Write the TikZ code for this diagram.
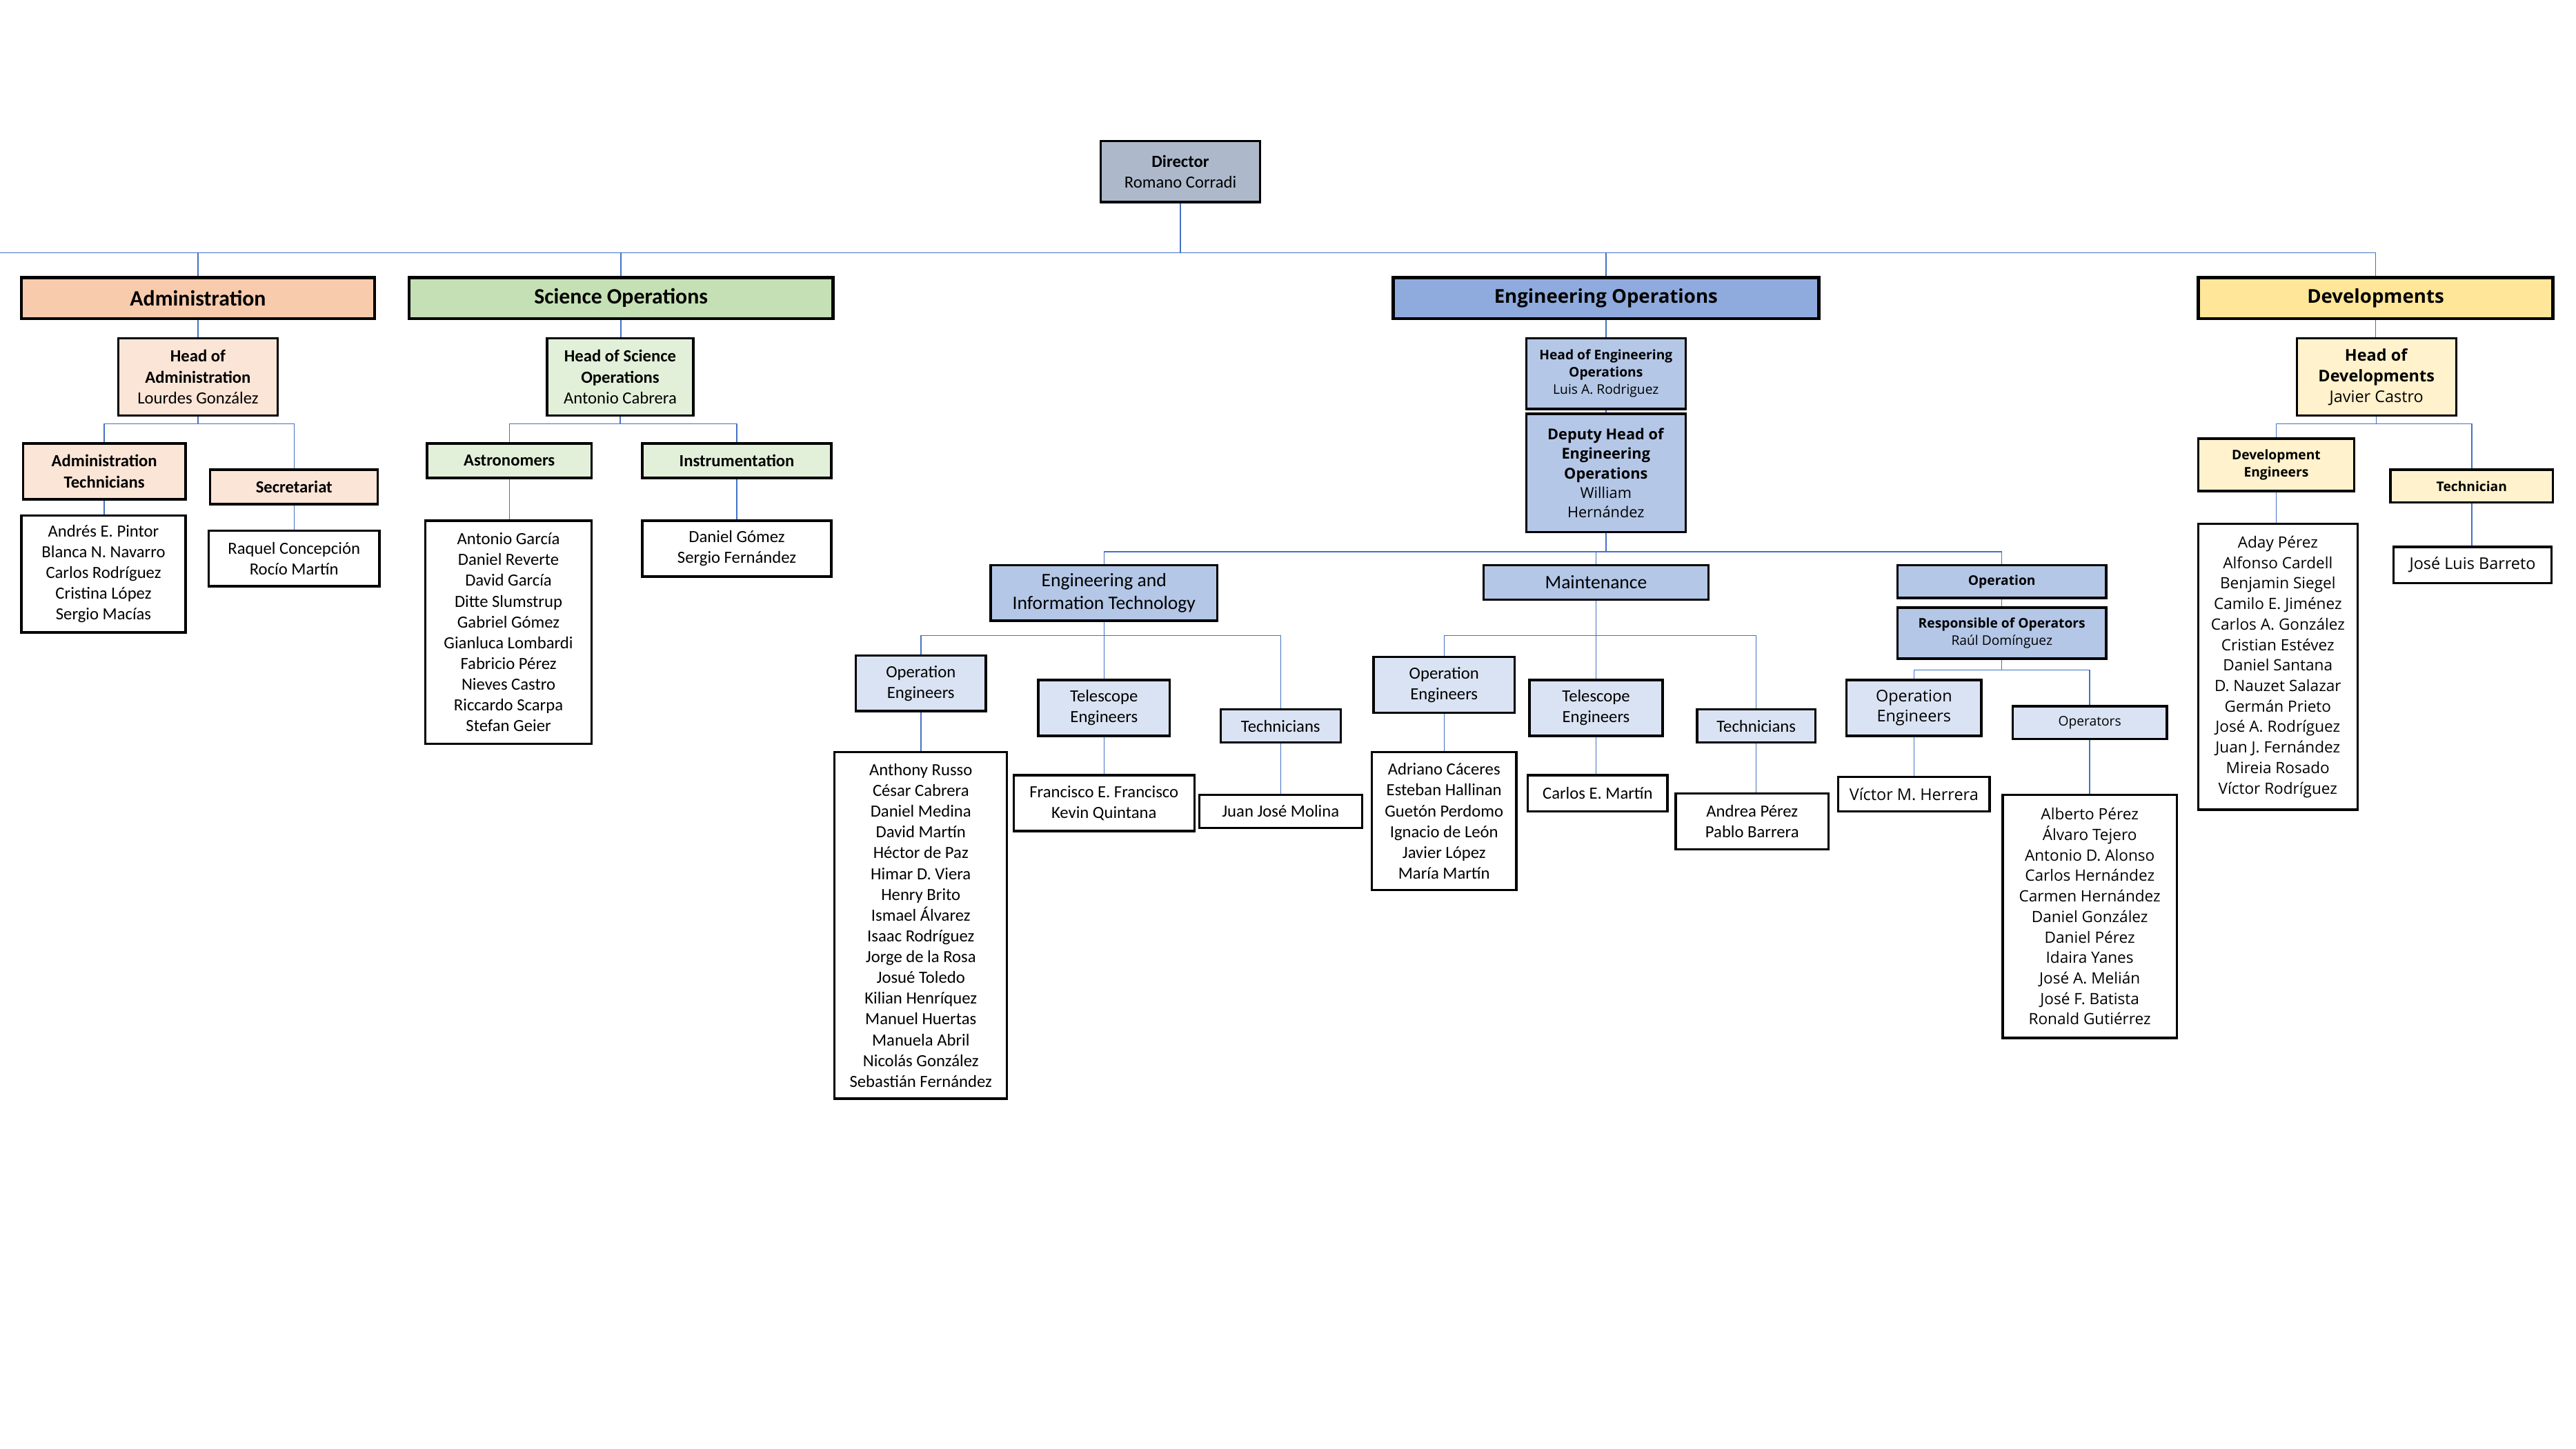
\documentclass[tikz,border=0pt]{standalone}
\usepackage{fontspec}
\setmainfont{Carlito}
\newfontfamily\segoe{Open Sans}
\usetikzlibrary{positioning}
\definecolor{dirC}{HTML}{ADB9CA}
\definecolor{admC}{HTML}{F8CBAD}
\definecolor{admL}{HTML}{FBE5D6}
\definecolor{sciC}{HTML}{C5E0B4}
\definecolor{sciL}{HTML}{E2F0D9}
\definecolor{engC}{HTML}{8FAADC}
\definecolor{engM}{HTML}{B4C7E7}
\definecolor{engL}{HTML}{DAE3F3}
\definecolor{devC}{HTML}{FFE699}
\definecolor{devL}{HTML}{FFF2CC}
\definecolor{linkC}{HTML}{4472C4}
\newcommand{\fsDept}{\fontsize{7.6}{9}\selectfont\bfseries}
\newcommand{\fsBox}{\fontsize{5.9}{7.2}\selectfont}
\newcommand{\fsSmall}{\fontsize{4.6}{6}\selectfont}
\begin{document}
\begin{tikzpicture}[x=0.02cm, y=-0.02cm,
    sz/.style 2 args={minimum width=#1*0.02cm, minimum height=#2*0.02cm},
    box/.style={rectangle, draw, line width=0.8pt, inner sep=0pt, align=center, font=\fsBox},
    dept/.style={box, line width=1.1pt, font=\fsDept},
    names/.style={box, fill=white},
    link/.style={draw=linkC, line width=0.35pt}]
    \useasboundingbox (0,0) rectangle (1568,882);
    % bus levels
    \coordinate (bTop) at (0,154);
    \coordinate (bSub) at (0,258);
    \coordinate (bEng) at (0,336);
    \coordinate (bGrp) at (0,387);
    \coordinate (bOpr) at (0,408);

    \node[box, fill=dirC, sz={97}{37}] (dir) at (718.5,104.5) {\textbf{Director}\\Romano Corradi};

    % departments
    \node[dept, fill=admC, sz={215}{25}] (adm) at (120.5,181.5) {Administration};
    \node[dept, fill=sciC, sz={258}{25}] (sci) at (378,181.5) {Science Operations};
    \node[dept, fill=engC, sz={259}{25}, font=\segoe\fontsize{6.6}{8}\selectfont\bfseries] (eng) at (977.5,181.5) {Engineering Operations};
    \node[dept, fill=devC, sz={216}{25}, font=\segoe\fontsize{6.6}{8}\selectfont\bfseries] (dev) at (1446,181.5) {Developments};

    % administration
    \node[box, fill=admL, sz={97}{47}] (hadm) at (120.5,229.5) {\textbf{Head of}\\\textbf{Administration}\\Lourdes González};
    \node[box, fill=admL, sz={99}{34}] (admtec) at (63.5,287) {\textbf{Administration}\\\textbf{Technicians}};
    \node[box, fill=admL, sz={102}{21}] (sec) at (179,296.5) {\textbf{Secretariat}};
    \node[names, sz={100}{71}] (admtecL) at (63,349.5) {Andrés E. Pintor\\Blanca N. Navarro\\Carlos Rodríguez\\Cristina López\\Sergio Macías};
    \node[names, sz={104}{34}] (secL) at (179,340) {Raquel Concepción\\Rocío Martín};

    % science operations
    \node[box, fill=sciL, sz={89}{47}] (hsci) at (377.5,229.5) {\textbf{Head of Science}\\\textbf{Operations}\\Antonio Cabrera};
    \node[box, fill=sciL, sz={100}{21}] (ast) at (310,280.5) {\textbf{Astronomers}};
    \node[box, fill=sciL, sz={115}{21}] (ins) at (448.5,280.5) {\textbf{Instrumentation}};
    \node[names, sz={101}{136}] (astL) at (309.5,385) {Antonio García\\Daniel Reverte\\David García\\Ditte Slumstrup\\Gabriel Gómez\\Gianluca Lombardi\\Fabricio Pérez\\Nieves Castro\\Riccardo Scarpa\\Stefan Geier};
    \node[names, sz={115}{34}] (insL) at (448.5,334) {Daniel Gómez\\Sergio Fernández};

    % engineering operations
    \node[box, fill=engM, sz={97}{43}, font=\segoe\fsSmall] (heng) at (977.5,227.5) {\textbf{Head of Engineering}\\\textbf{Operations}\\Luis A. Rodriguez};
    \node[box, fill=engM, sz={97}{72}, font=\segoe\fontsize{5.2}{6.8}\selectfont] (deng) at (977.5,288) {\textbf{Deputy Head of}\\\textbf{Engineering}\\\textbf{Operations}\\William\\Hernández};
    \node[box, fill=engM, sz={138}{34}, font=\fontsize{6.6}{7.8}\selectfont] (eit) at (672,361) {Engineering and\\Information Technology};
    \node[box, fill=engM, sz={137}{21}, font=\fontsize{6.6}{7.8}\selectfont] (mnt) at (971.5,354.5) {Maintenance};
    \node[box, fill=engM, sz={127}{20}, font=\segoe\fsSmall] (opr) at (1218.5,354) {\textbf{Operation}};
    \node[box, fill=engM, sz={127}{31}, font=\segoe\fsSmall] (resp) at (1218.5,385.5) {\textbf{Responsible of Operators}\\Raúl Domínguez};

    \node[box, fill=engL, sz={79}{34}] (eitO) at (560.5,416) {Operation\\Engineers};
    \node[box, fill=engL, sz={80}{34}] (eitT) at (672,431) {Telescope\\Engineers};
    \node[box, fill=engL, sz={73}{20}] (eitK) at (779.5,442) {Technicians};
    \node[names, sz={105}{211}] (eitOL) at (560.5,563.5) {Anthony Russo\\César Cabrera\\Daniel Medina\\David Martín\\Héctor de Paz\\Himar D. Viera\\Henry Brito\\Ismael Álvarez\\Isaac Rodríguez\\Jorge de la Rosa\\Josué Toledo\\Kilian Henríquez\\Manuel Huertas\\Manuela Abril\\Nicolás González\\Sebastián Fernández};
    \node[names, sz={110}{34}] (eitTL) at (672,489) {Francisco E. Francisco\\Kevin Quintana};
    \node[names, sz={99}{20}] (eitKL) at (779.5,494) {Juan José Molina};

    \node[box, fill=engL, sz={86}{34}] (mntO) at (879,417) {Operation\\Engineers};
    \node[box, fill=engL, sz={81}{34}] (mntT) at (971.5,431) {Telescope\\Engineers};
    \node[box, fill=engL, sz={72}{20}] (mntK) at (1069,442) {Technicians};
    \node[names, sz={88}{84}] (mntOL) at (879,500) {Adriano Cáceres\\Esteban Hallinan\\Guetón Perdomo\\Ignacio de León\\Javier López\\María Martín};
    \node[names, sz={85}{22}] (mntTL) at (972.5,483) {Carlos E. Martín};
    \node[names, sz={93}{34}] (mntKL) at (1066.5,500) {Andrea Pérez\\Pablo Barrera};

    \node[box, fill=engL, sz={82}{34}, font=\segoe\fontsize{5.6}{7}\selectfont] (oprO) at (1165,431) {Operation\\Engineers};
    \node[box, fill=engL, sz={94}{20}, font=\segoe\fsSmall] (oprP) at (1272,440) {Operators};
    \node[names, sz={92}{21}, font=\segoe\fontsize{5.6}{7}\selectfont] (oprOL) at (1165,483.5) {Víctor M. Herrera};
    \node[names, sz={106}{148}, font=\segoe\fontsize{5.4}{7.1}\selectfont] (oprPL) at (1272,558) {Alberto Pérez\\Álvaro Tejero\\Antonio D. Alonso\\Carlos Hernández\\Carmen Hernández\\Daniel González\\Daniel Pérez\\Idaira Yanes\\José A. Melián\\José F. Batista\\Ronald Gutiérrez};

    % developments
    \node[box, fill=devL, sz={97}{47}, font=\segoe\fontsize{5.6}{7.2}\selectfont] (hdev) at (1446.5,229.5) {\textbf{Head of}\\\textbf{Developments}\\Javier Castro};
    \node[box, fill=devL, sz={95}{32}, font=\segoe\fsSmall] (deve) at (1385.5,283) {\textbf{Development}\\\textbf{Engineers}};
    \node[box, fill=devL, sz={99}{20}, font=\segoe\fsSmall] (devt) at (1504.5,296) {\textbf{Technician}};
    \node[names, sz={97}{174}, font=\segoe\fontsize{5.4}{7.1}\selectfont] (deveL) at (1386.5,406) {Aday Pérez\\Alfonso Cardell\\Benjamin Siegel\\Camilo E. Jiménez\\Carlos A. González\\Cristian Estévez\\Daniel Santana\\D. Nauzet Salazar\\Germán Prieto\\José A. Rodríguez\\Juan J. Fernández\\Mireia Rosado\\Víctor Rodríguez};
    \node[names, sz={96}{22}, font=\segoe\fontsize{5.6}{7}\selectfont] (devtL) at (1505,344) {José Luis Barreto};

    % connectors
    \foreach \c in {adm,sci,eng,dev}
        \draw[link] (dir.south) |- (bTop) (dir.south |- bTop) -| (\c.north);
    \foreach \p/\c in {adm/hadm, sci/hsci, eng/heng, heng/deng, dev/hdev, opr/resp,
        admtec/admtecL, sec/secL, ast/astL, ins/insL,
        eitO/eitOL, eitT/eitTL, eitK/eitKL, mntO/mntOL, mntT/mntTL, mntK/mntKL,
        oprO/oprOL, oprP/oprPL, deve/deveL, devt/devtL}
        \draw[link] (\p.south) -- (\p.south |- \c.north);
    \foreach \p/\c/\b in {hadm/admtec/bSub, hadm/sec/bSub, hsci/ast/bSub, hsci/ins/bSub,
        hdev/deve/bSub, hdev/devt/bSub, deng/eit/bEng, deng/mnt/bEng, deng/opr/bEng,
        eit/eitO/bGrp, eit/eitT/bGrp, eit/eitK/bGrp, mnt/mntO/bGrp, mnt/mntT/bGrp, mnt/mntK/bGrp,
        resp/oprO/bOpr, resp/oprP/bOpr}
        \draw[link] (\p.south) -- (\p.south |- \b) -| (\c.north);
\end{tikzpicture}
\end{document}
